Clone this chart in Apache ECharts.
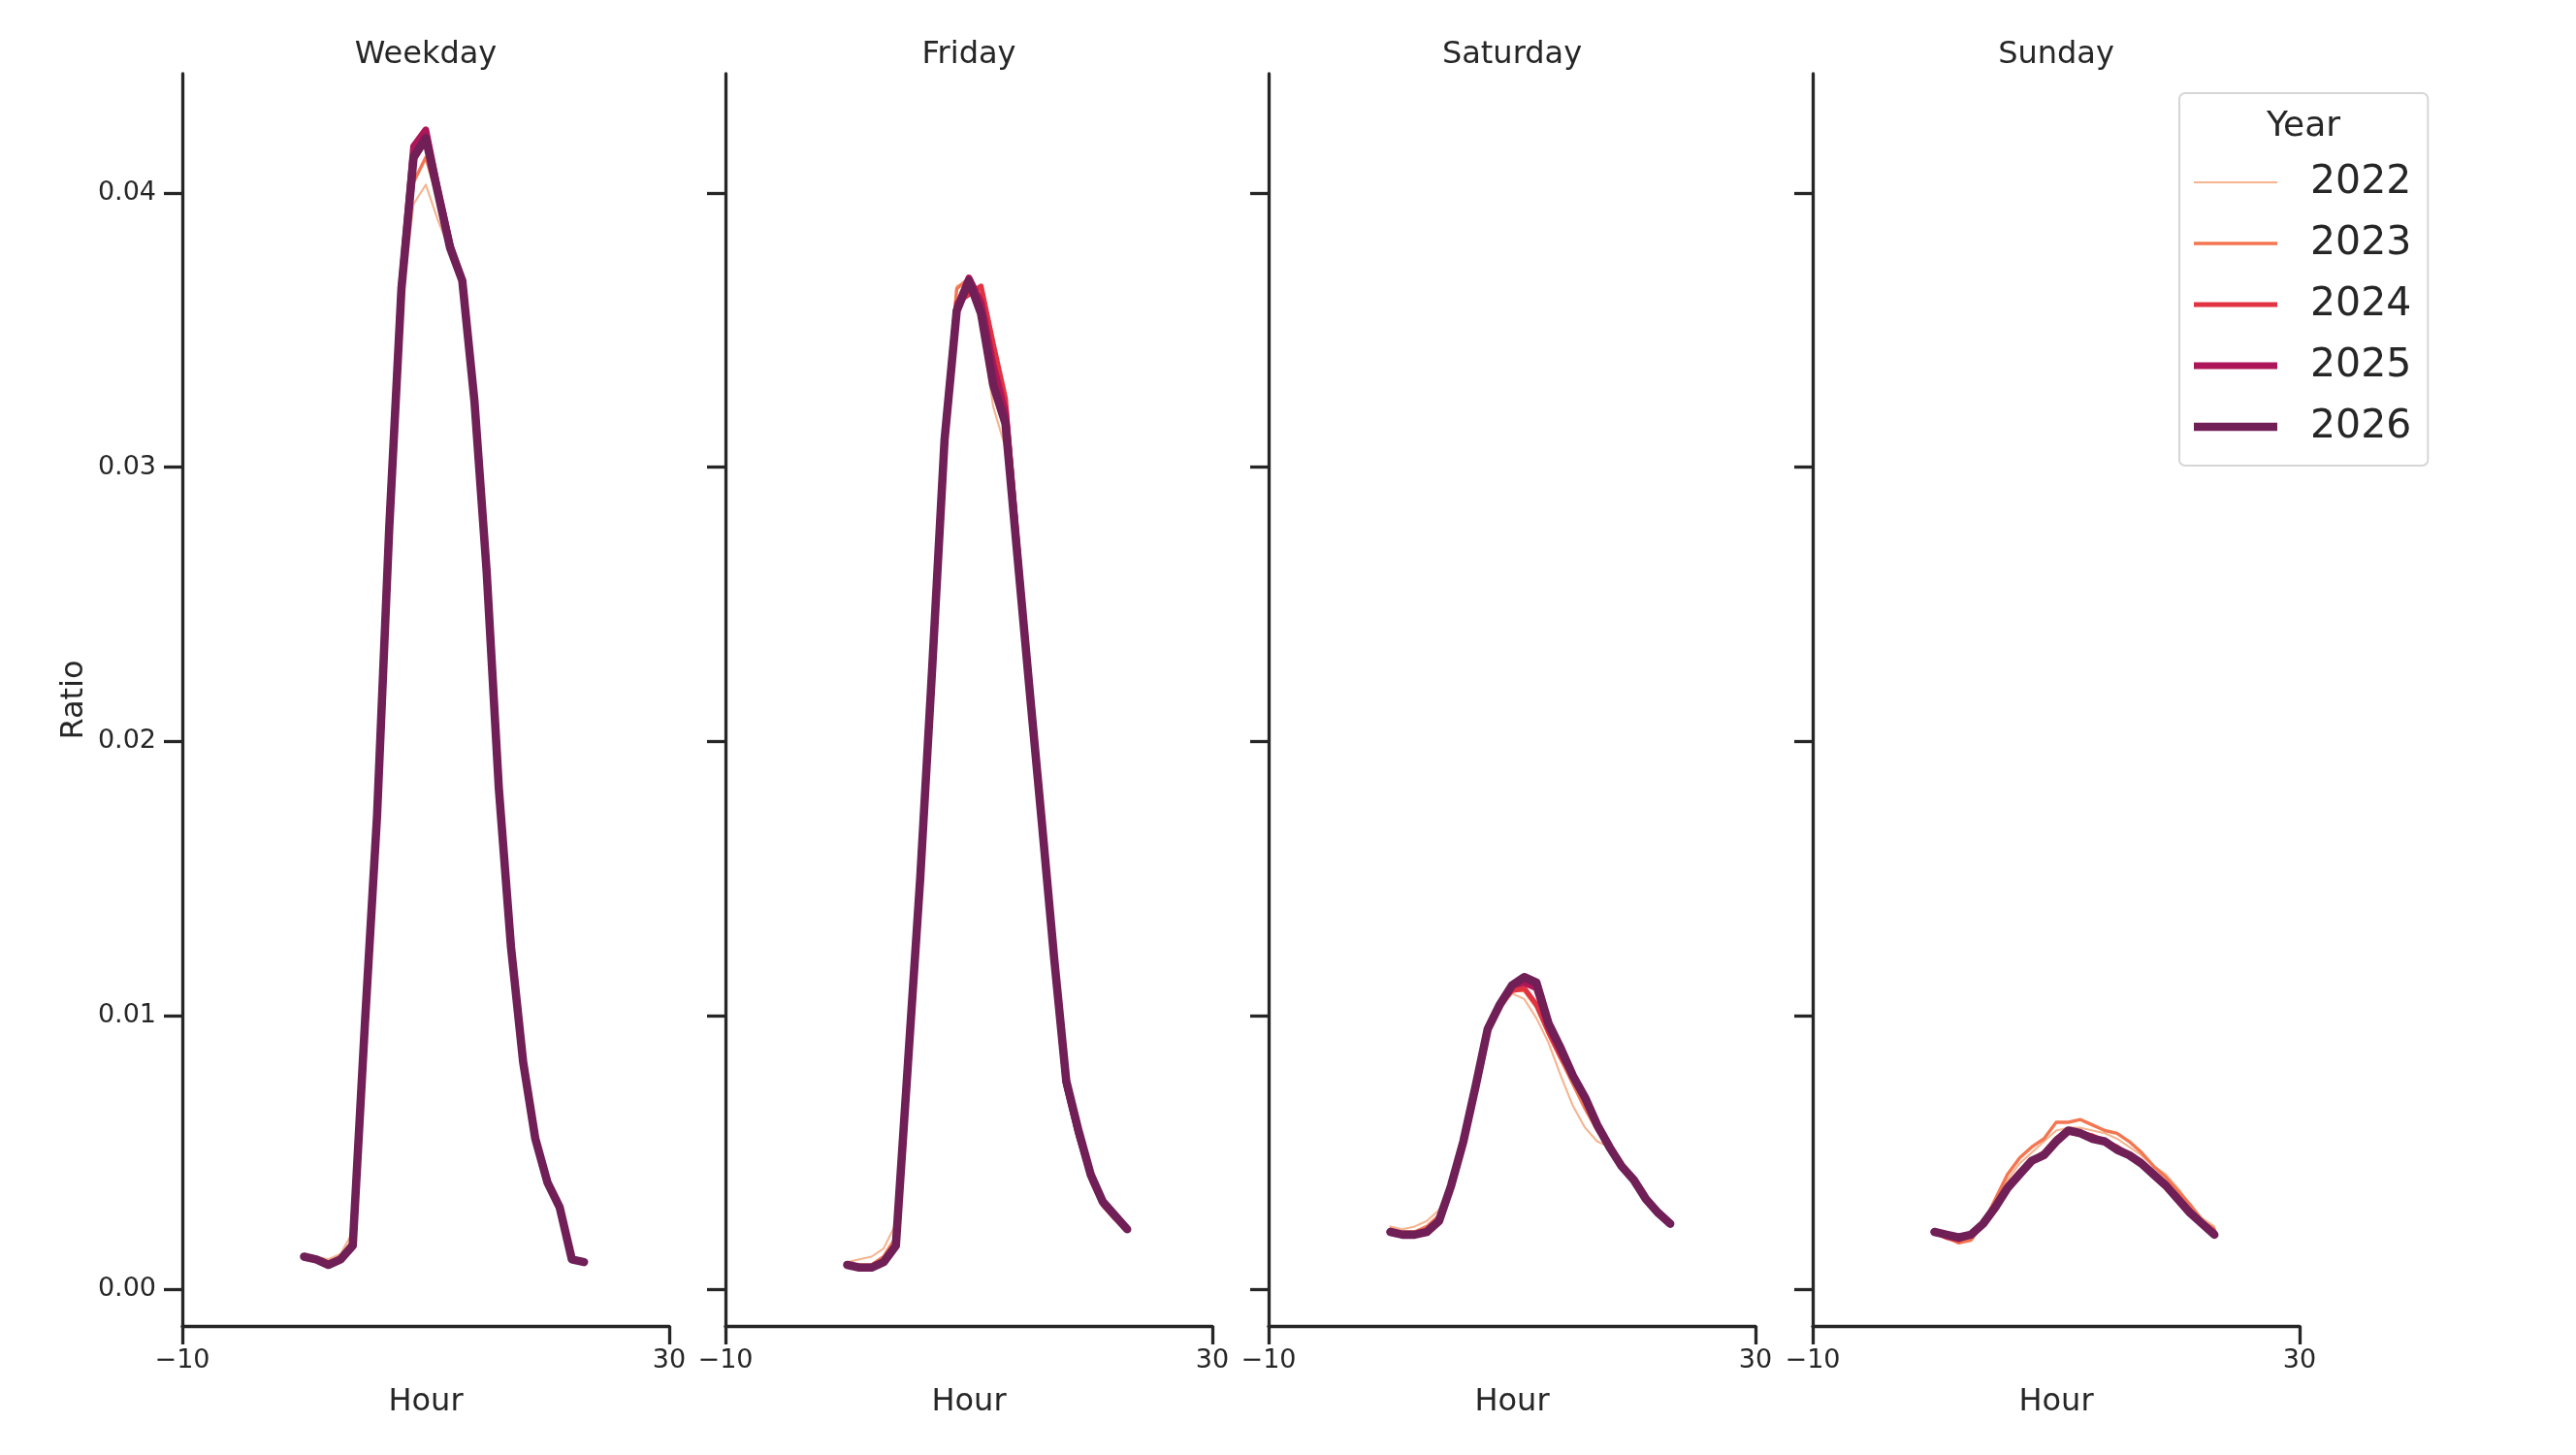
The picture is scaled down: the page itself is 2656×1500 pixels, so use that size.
<!DOCTYPE html>
<html>
<head>
  <meta charset="utf-8">
  <title>Hourly ratio by day type</title>
  <script src="https://cdn.jsdelivr.net/npm/echarts@6.0.0/dist/echarts.min.js"></script>
  <style>
    html, body { margin: 0; padding: 0; background: #fff; }
    #chart { width: 2656px; height: 1500px; }
  </style>
</head>
<body>
  <div id="chart"></div>
  <script>
    // hours of the day (x values)
    var hours = [0, 1, 2, 3, 4, 5, 6, 7, 8, 9, 10, 11, 12, 13, 14, 15, 16, 17, 18, 19, 20, 21, 22, 23];
    var years = ['2022', '2023', '2024', '2025', '2026'];
    var panels = ['Weekday', 'Friday', 'Saturday', 'Sunday'];
    var yTicks = [0, 0.01, 0.02, 0.03, 0.04];
    var xTicks = [-10, 30];

    // Weekday
    var wk2022 = [0.0012, 0.0012, 0.0011, 0.0013, 0.0021, 0.0099, 0.0172, 0.0272, 0.0358, 0.0396, 0.0403, 0.0390, 0.0379, 0.0368, 0.0324, 0.0262, 0.0183, 0.0125, 0.0083, 0.0055, 0.0039, 0.0030, 0.0012, 0.0010];
    var wk2023 = [0.0012, 0.0011, 0.0010, 0.0012, 0.0018, 0.0098, 0.0173, 0.0276, 0.0362, 0.0404, 0.0413, 0.0398, 0.0380, 0.0368, 0.0324, 0.0262, 0.0183, 0.0125, 0.0083, 0.0055, 0.0039, 0.0030, 0.0011, 0.0010];
    var wk2024 = [0.0012, 0.0011, 0.0009, 0.0011, 0.0016, 0.0097, 0.0173, 0.0278, 0.0365, 0.0412, 0.0419, 0.0399, 0.0380, 0.0368, 0.0324, 0.0262, 0.0183, 0.0125, 0.0083, 0.0055, 0.0039, 0.0030, 0.0011, 0.0010];
    var wk2025 = [0.0012, 0.0011, 0.0009, 0.0011, 0.0016, 0.0097, 0.0173, 0.0278, 0.0366, 0.0417, 0.0423, 0.0401, 0.0381, 0.0368, 0.0324, 0.0262, 0.0183, 0.0125, 0.0083, 0.0055, 0.0039, 0.0030, 0.0011, 0.0010];
    var wk2026 = [0.0012, 0.0011, 0.0009, 0.0011, 0.0016, 0.0097, 0.0173, 0.0278, 0.0365, 0.0413, 0.0420, 0.0400, 0.0380, 0.0368, 0.0324, 0.0262, 0.0183, 0.0125, 0.0083, 0.0055, 0.0039, 0.0030, 0.0011, 0.0010];

    // Friday
    var fr2022 = [0.0010, 0.0011, 0.0012, 0.0015, 0.0024, 0.0085, 0.0150, 0.0230, 0.0314, 0.0366, 0.0368, 0.0352, 0.0322, 0.0307, 0.0262, 0.0216, 0.0168, 0.0118, 0.0072, 0.0054, 0.0039, 0.0030, 0.0026, 0.0022];
    var fr2023 = [0.0009, 0.0009, 0.0009, 0.0012, 0.0019, 0.0084, 0.0151, 0.0230, 0.0313, 0.0365, 0.0369, 0.0358, 0.0330, 0.0314, 0.0266, 0.0218, 0.0169, 0.0120, 0.0073, 0.0055, 0.0040, 0.0031, 0.0026, 0.0022];
    var fr2024 = [0.0009, 0.0008, 0.0008, 0.0010, 0.0016, 0.0083, 0.0150, 0.0228, 0.0311, 0.0360, 0.0363, 0.0366, 0.0345, 0.0325, 0.0272, 0.0220, 0.0170, 0.0120, 0.0074, 0.0056, 0.0041, 0.0031, 0.0026, 0.0022];
    var fr2025 = [0.0009, 0.0008, 0.0008, 0.0010, 0.0016, 0.0083, 0.0150, 0.0228, 0.0310, 0.0358, 0.0369, 0.0360, 0.0337, 0.0320, 0.0268, 0.0218, 0.0170, 0.0121, 0.0075, 0.0057, 0.0042, 0.0032, 0.0027, 0.0022];
    var fr2026 = [0.0009, 0.0008, 0.0008, 0.0010, 0.0016, 0.0083, 0.0150, 0.0228, 0.0310, 0.0357, 0.0368, 0.0356, 0.0330, 0.0316, 0.0267, 0.0218, 0.0170, 0.0121, 0.0076, 0.0058, 0.0042, 0.0032, 0.0027, 0.0022];

    // Saturday
    var sa2022 = [0.0023, 0.0022, 0.0023, 0.0025, 0.0029, 0.0039, 0.0053, 0.0072, 0.0093, 0.0102, 0.0108, 0.0106, 0.0099, 0.0090, 0.0078, 0.0067, 0.0059, 0.0054, 0.0052, 0.0045, 0.0040, 0.0033, 0.0028, 0.0024];
    var sa2023 = [0.0022, 0.0021, 0.0021, 0.0023, 0.0027, 0.0038, 0.0054, 0.0073, 0.0094, 0.0103, 0.0109, 0.0109, 0.0103, 0.0093, 0.0084, 0.0075, 0.0066, 0.0058, 0.0052, 0.0045, 0.0040, 0.0033, 0.0028, 0.0024];
    var sa2024 = [0.0021, 0.0020, 0.0020, 0.0021, 0.0025, 0.0038, 0.0054, 0.0074, 0.0094, 0.0104, 0.0109, 0.0110, 0.0104, 0.0094, 0.0085, 0.0078, 0.0070, 0.0060, 0.0052, 0.0045, 0.0040, 0.0033, 0.0028, 0.0024];
    var sa2025 = [0.0021, 0.0020, 0.0020, 0.0021, 0.0025, 0.0038, 0.0054, 0.0074, 0.0095, 0.0104, 0.0111, 0.0112, 0.0110, 0.0096, 0.0087, 0.0078, 0.0070, 0.0060, 0.0052, 0.0045, 0.0040, 0.0033, 0.0028, 0.0024];
    var sa2026 = [0.0021, 0.0020, 0.0020, 0.0021, 0.0025, 0.0038, 0.0054, 0.0074, 0.0095, 0.0104, 0.0111, 0.0114, 0.0112, 0.0097, 0.0088, 0.0078, 0.0070, 0.0060, 0.0052, 0.0045, 0.0040, 0.0033, 0.0028, 0.0024];

    // Sunday
    var su2022 = [0.0021, 0.0019, 0.0018, 0.0019, 0.0024, 0.0032, 0.0040, 0.0046, 0.0050, 0.0054, 0.0058, 0.0059, 0.0059, 0.0058, 0.0057, 0.0055, 0.0052, 0.0049, 0.0045, 0.0042, 0.0037, 0.0031, 0.0026, 0.0023];
    var su2023 = [0.0021, 0.0019, 0.0017, 0.0018, 0.0024, 0.0033, 0.0042, 0.0048, 0.0052, 0.0055, 0.0061, 0.0061, 0.0062, 0.0060, 0.0058, 0.0057, 0.0054, 0.0050, 0.0045, 0.0041, 0.0036, 0.0031, 0.0025, 0.0022];
    var su2024 = [0.0021, 0.0019, 0.0018, 0.0020, 0.0024, 0.0031, 0.0038, 0.0043, 0.0047, 0.0050, 0.0055, 0.0058, 0.0057, 0.0056, 0.0054, 0.0052, 0.0049, 0.0046, 0.0042, 0.0038, 0.0033, 0.0028, 0.0024, 0.0021];
    var su2025 = [0.0021, 0.0020, 0.0019, 0.0020, 0.0024, 0.0030, 0.0037, 0.0042, 0.0047, 0.0049, 0.0054, 0.0058, 0.0057, 0.0055, 0.0054, 0.0051, 0.0049, 0.0046, 0.0042, 0.0038, 0.0033, 0.0028, 0.0024, 0.0020];
    var su2026 = [0.0021, 0.0020, 0.0019, 0.0020, 0.0024, 0.0030, 0.0037, 0.0042, 0.0047, 0.0049, 0.0054, 0.0058, 0.0057, 0.0055, 0.0054, 0.0051, 0.0049, 0.0046, 0.0042, 0.0038, 0.0033, 0.0028, 0.0024, 0.0020];

    var panelData = [
      [wk2022, wk2023, wk2024, wk2025, wk2026],
      [fr2022, fr2023, fr2024, fr2025, fr2026],
      [sa2022, sa2023, sa2024, sa2025, sa2026],
      [su2022, su2023, su2024, su2025, su2026]
    ];

    var colors = ['#f6b48f', '#f37651', '#e13342', '#ad1759', '#701f57'];
    var widths = [2.1, 3.4, 5.2, 7.0, 8.6];

    var ink = '#262626';
    var font = 'DejaVu Sans';
    var gLeft = [188, 748, 1308, 1869];
    var gWidth = 502, gTop = 76, gHeight = 1291;

    function pairs(vals) {
      var out = [];
      for (var i = 0; i < hours.length; i++) out.push([hours[i], vals[i]]);
      return out;
    }

    var grids = [], xAxes = [], yAxes = [], titles = [], series = [];
    for (var p = 0; p < panels.length; p++) {
      grids.push({ left: gLeft[p], top: gTop, width: gWidth, height: gHeight });
      titles.push({
        text: panels[p], left: gLeft[p] + gWidth / 2, top: 41, textAlign: 'center', padding: 0,
        textStyle: { fontFamily: font, fontSize: 32, fontWeight: 'normal', color: ink }
      });
      xAxes.push({
        type: 'value', gridIndex: p, min: -10, max: 30,
        name: 'Hour', nameLocation: 'middle', nameGap: 63,
        nameTextStyle: { fontFamily: font, fontSize: 32, color: ink },
        splitLine: { show: false },
        axisLine: { onZero: false, lineStyle: { color: ink, width: 3.3 } },
        axisTick: { show: true, length: 19, lineStyle: { color: ink, width: 3.3 }, customValues: xTicks },
        axisLabel: {
          fontFamily: font, fontSize: 27, color: ink, margin: 22, customValues: xTicks,
          formatter: function (v) { return v < 0 ? '\u2212' + Math.abs(v) : String(v); }
        }
      });
      yAxes.push({
        type: 'value', gridIndex: p, min: -0.00133, max: 0.04435,
        name: p === 0 ? 'Ratio' : '', nameLocation: 'middle', nameGap: 95, nameRotate: 90,
        nameTextStyle: { fontFamily: font, fontSize: 32, color: ink },
        splitLine: { show: false },
        axisLine: { onZero: false, lineStyle: { color: ink, width: 3.3 } },
        axisTick: { show: true, length: 19, lineStyle: { color: ink, width: 3.3 }, customValues: yTicks },
        axisLabel: {
          show: p === 0, fontFamily: font, fontSize: 27, color: ink, margin: 27, customValues: yTicks,
          formatter: function (v) { return v.toFixed(2); }
        }
      });
      for (var k = 0; k < years.length; k++) {
        series.push({
          name: years[k], type: 'line', xAxisIndex: p, yAxisIndex: p,
          data: pairs(panelData[p][k]),
          symbol: 'none', showSymbol: false, animation: false,
          lineStyle: { color: colors[k], width: widths[k], cap: 'round', join: 'round' },
          itemStyle: { color: colors[k] },
          z: 2 + k
        });
      }
    }

    titles.push({
      text: 'Year', left: 2375, top: 113, textAlign: 'center', padding: 0,
      textStyle: { fontFamily: font, fontSize: 36, fontWeight: 'normal', color: ink }
    });

    // legend entries: a flat bar as wide as the icon and as thick as the line
    var legendItems = years.map(function (y, k) {
      var w = widths[k];
      return {
        name: y,
        icon: 'path://M0,0L86,0L86,' + w + 'L0,' + w + 'Z',
        itemStyle: { color: colors[k], borderWidth: 0 }
      };
    });

    var chart = echarts.init(document.getElementById('chart'), null, { renderer: 'canvas' });
    chart.setOption({
      backgroundColor: '#ffffff',
      animation: false,
      title: titles,
      grid: grids,
      xAxis: xAxes,
      yAxis: yAxes,
      legend: {
        data: legendItems, orient: 'vertical', left: 2247, top: 96,
        padding: [67, 17, 15, 15],
        itemWidth: 86, itemHeight: 20, itemGap: 13,
        symbolKeepAspect: true,
        backgroundColor: '#ffffff', borderColor: '#d6d6d6', borderWidth: 2, borderRadius: 6,
        selectedMode: false,
        textStyle: { fontFamily: font, fontSize: 41, color: ink, lineHeight: 50, padding: [0, 0, 0, 29] }
      },
      series: series
    });
  </script>
</body>
</html>
